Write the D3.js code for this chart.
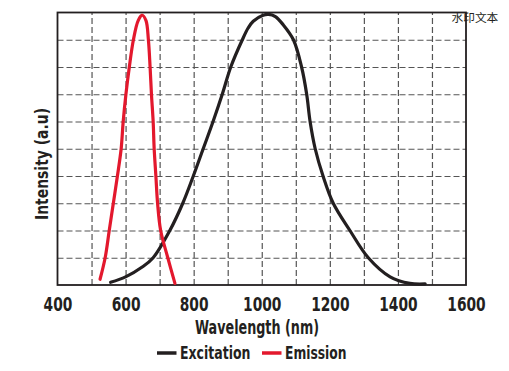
<!DOCTYPE html>
<html>
<head>
<meta charset="utf-8">
<script src="https://cdn.jsdelivr.net/npm/d3@7/dist/d3.min.js"></script>
<style>
  body { margin: 0; background: #fff; }
  text { font-family: "DejaVu Sans Condensed", "DejaVu Sans", sans-serif; font-weight: bold; fill: #231f20; }
</style>
</head>
<body>
<div id="viz"></div>
<script>
// values (wavelength in nm, intensity 0..1)
const excitationNm = [556, 600, 650, 681, 730, 768, 799, 828, 857, 884, 909, 943, 960, 975, 1004, 1020, 1040, 1063, 1093, 1117, 1132, 1142, 1157, 1180, 1210, 1259, 1313, 1377, 1435, 1480];
const excitationVal = [0.01, 0.03, 0.067, 0.1, 0.2, 0.3, 0.4, 0.5, 0.6, 0.7, 0.8, 0.9, 0.943, 0.968, 0.99, 0.993, 0.985, 0.955, 0.9, 0.8, 0.7, 0.6, 0.5, 0.4, 0.3, 0.2, 0.1, 0.03, 0.006, 0.004];
const emissionNm = [525, 540, 552, 564, 576, 587, 593, 601, 611, 623, 637, 649, 660, 667, 672, 676, 681, 684, 689, 694, 703, 724, 745];
const emissionVal = [0.021, 0.1, 0.2, 0.3, 0.4, 0.5, 0.6, 0.7, 0.8, 0.9, 0.97, 0.99, 0.97, 0.9, 0.8, 0.7, 0.6, 0.5, 0.4, 0.3, 0.2, 0.1, 0.006];
const xTicks = [400, 600, 800, 1000, 1200, 1400, 1600];
const xGrid = [500, 600, 700, 800, 900, 1000, 1100, 1200, 1300, 1400, 1500];
const yGrid = [0.1, 0.2, 0.3, 0.4, 0.5, 0.6, 0.7, 0.8, 0.9];

const width = 509, height = 371;
const plotLeft = 57.5, plotRight = 466, plotTop = 12.5, plotBottom = 285;

const svg = d3.select('#viz')
  .append('svg')
  .attr('width', width)
  .attr('height', height);

const x = d3.scaleLinear().domain([400, 1600]).range([plotLeft, plotRight]);
const y = d3.scaleLinear().domain([0, 1]).range([plotBottom, plotTop]);

// dashed grid
svg.append('g')
  .attr('transform', `translate(0,${plotBottom})`)
  .call(d3.axisBottom(x).tickValues(xGrid).tickSize(-(plotBottom - plotTop)).tickFormat(''))
  .call(g => g.select('.domain').remove())
  .call(g => g.selectAll('line').attr('stroke', '#555').attr('stroke-width', 1.2).attr('stroke-dasharray', '6,3'));

svg.append('g')
  .attr('transform', `translate(${plotLeft},0)`)
  .call(d3.axisLeft(y).tickValues(yGrid).tickSize(-(plotRight - plotLeft)).tickFormat(''))
  .call(g => g.select('.domain').remove())
  .call(g => g.selectAll('line').attr('stroke', '#555').attr('stroke-width', 1.2).attr('stroke-dasharray', '6,3'));

// frame
svg.append('rect')
  .attr('x', plotLeft).attr('y', plotTop)
  .attr('width', plotRight - plotLeft).attr('height', plotBottom - plotTop)
  .attr('fill', 'none').attr('stroke', '#231f20').attr('stroke-width', 1.8);

// x tick labels
svg.append('g')
  .attr('transform', `translate(0,${plotBottom})`)
  .call(d3.axisBottom(x).tickValues(xTicks).tickSize(0).tickFormat(d3.format('d')))
  .call(g => g.select('.domain').remove())
  .call(g => g.selectAll('text')
    .attr('y', 25.7)
    .attr('dy', null)
    .attr('font-size', 19)
    .style('font-family', '"DejaVu Sans Condensed", sans-serif')
    .style('font-weight', 'bold')
    .attr('fill', '#231f20')
    .attr('textLength', d => String(d).length * 9.6)
    .attr('lengthAdjust', 'spacingAndGlyphs'));

// curves
const line = d3.line()
  .x(d => x(d[0]))
  .y(d => y(d[1]))
  .curve(d3.curveCatmullRom.alpha(0.5));

svg.append('path')
  .datum(d3.zip(excitationNm, excitationVal))
  .attr('d', line)
  .attr('fill', 'none')
  .attr('stroke', '#231f20')
  .attr('stroke-width', 3.2)
  .attr('stroke-linecap', 'round');

svg.append('path')
  .datum(d3.zip(emissionNm, emissionVal))
  .attr('d', line)
  .attr('fill', 'none')
  .attr('stroke', '#e3182d')
  .attr('stroke-width', 3.2)
  .attr('stroke-linecap', 'round');

// axis titles
svg.append('text')
  .attr('x', 257).attr('y', 334)
  .attr('text-anchor', 'middle')
  .attr('font-size', 19)
  .attr('textLength', 124)
  .attr('lengthAdjust', 'spacingAndGlyphs')
  .text('Wavelength (nm)');

svg.append('text')
  .attr('transform', 'translate(48,164) rotate(-90)')
  .attr('text-anchor', 'middle')
  .attr('font-size', 18)
  .attr('textLength', 112)
  .attr('lengthAdjust', 'spacingAndGlyphs')
  .text('Intensity (a.u)');

// legend
const legend = [
  { name: 'Excitation', color: '#231f20', x0: 157, w: 70.5 },
  { name: 'Emission', color: '#e3182d', x0: 262, w: 61.5 }
];
legend.forEach(d => {
  svg.append('line')
    .attr('x1', d.x0).attr('x2', d.x0 + 19.5)
    .attr('y1', 353).attr('y2', 353)
    .attr('stroke', d.color).attr('stroke-width', 3.5);
  svg.append('text')
    .attr('x', d.x0 + 23).attr('y', 359)
    .attr('font-size', 18)
    .attr('textLength', d.w)
    .attr('lengthAdjust', 'spacingAndGlyphs')
    .text(d.name);
});

// watermark
svg.append('text')
  .attr('x', 451.5).attr('y', 22)
  .style('font-family', '"Noto Sans CJK SC", sans-serif')
  .style('font-weight', 'normal')
  .attr('font-size', 11.7)
  .attr('fill', '#333')
  .text('水印文本');
</script>
</body>
</html>
